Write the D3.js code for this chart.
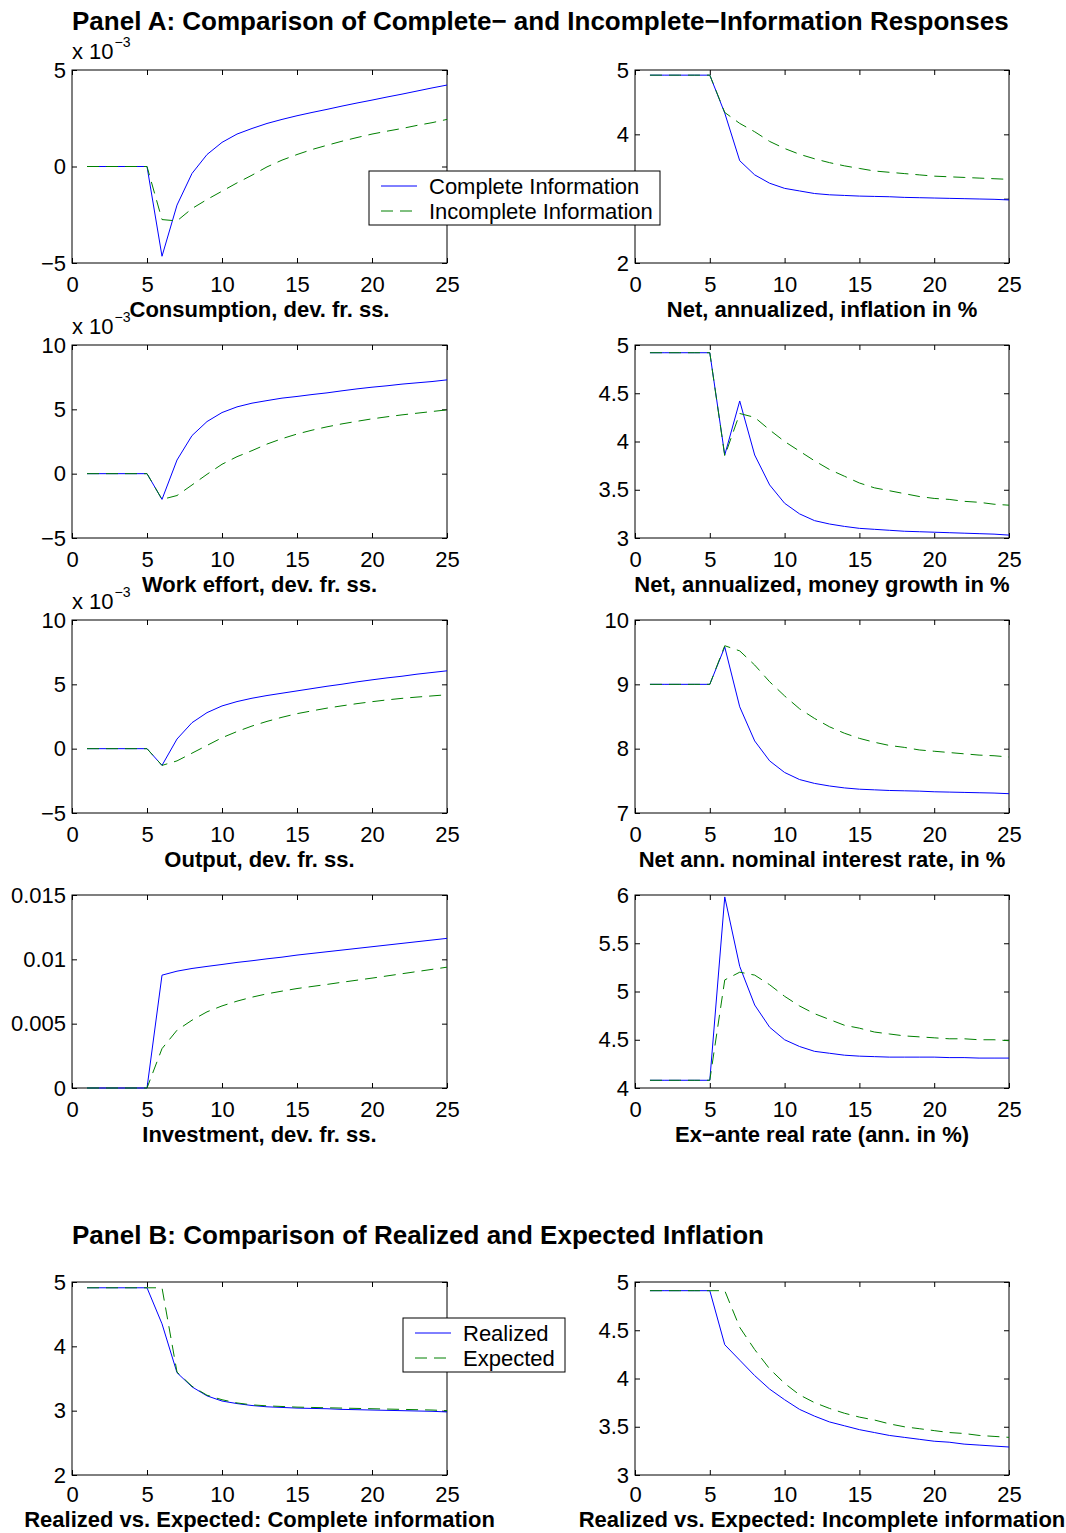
<!DOCTYPE html>
<html>
<head>
<meta charset="utf-8">
<script src="https://cdn.jsdelivr.net/npm/d3@7"></script>
<style>
body { margin: 0; background: #fff; }
text { font-family: "Liberation Sans", Arial, Helvetica, sans-serif; fill: #000; }
</style>
</head>
<body>
<svg id="fig" width="1066" height="1533"></svg>
<script>
'use strict';

// periods on the horizontal axis
var periods = [1,2,3,4,5,6,7,8,9,10,11,12,13,14,15,16,17,18,19,20,21,22,23,24,25];
var xTicks = [0, 5, 10, 15, 20, 25];

// Panel A, values (left column in units of 1e-3, except investment)
var consComplete   = [0,0,0,0,0,-4.65,-2.0,-0.36,0.62,1.25,1.68,1.97,2.23,2.44,2.63,2.80,2.96,3.13,3.29,3.44,3.60,3.75,3.91,4.07,4.22];
var consIncomplete = [0,0,0,0,0,-2.75,-2.82,-2.18,-1.71,-1.28,-0.85,-0.45,-0.02,0.33,0.62,0.88,1.10,1.31,1.50,1.68,1.83,1.97,2.13,2.27,2.44];

var inflComplete   = [4.92,4.92,4.92,4.92,4.92,4.33,3.59,3.37,3.24,3.16,3.12,3.08,3.06,3.05,3.04,3.035,3.03,3.02,3.015,3.01,3.005,3.0,2.995,2.99,2.98];
var inflIncomplete = [4.92,4.92,4.92,4.92,4.92,4.34,4.17,4.04,3.89,3.78,3.69,3.62,3.56,3.51,3.47,3.43,3.41,3.39,3.37,3.35,3.34,3.33,3.32,3.31,3.30];

var workComplete   = [0,0,0,0,0,-2.0,1.06,2.96,4.05,4.75,5.19,5.48,5.68,5.87,6.0,6.15,6.28,6.44,6.59,6.72,6.83,6.96,7.06,7.16,7.29];
var workIncomplete = [0,0,0,0,0,-2.0,-1.7,-0.88,-0.05,0.73,1.32,1.79,2.30,2.72,3.08,3.38,3.64,3.87,4.07,4.26,4.42,4.57,4.70,4.83,4.96];

var moneyComplete   = [4.92,4.92,4.92,4.92,4.92,3.86,4.42,3.86,3.55,3.36,3.25,3.18,3.145,3.12,3.10,3.09,3.08,3.07,3.065,3.06,3.055,3.05,3.045,3.04,3.03];
var moneyIncomplete = [4.92,4.92,4.92,4.92,4.92,3.85,4.29,4.25,4.12,4.0,3.90,3.80,3.71,3.64,3.57,3.52,3.49,3.46,3.43,3.41,3.40,3.38,3.37,3.35,3.34];

var outputComplete   = [0,0,0,0,0,-1.3,0.75,2.02,2.80,3.32,3.66,3.92,4.13,4.31,4.49,4.67,4.85,5.01,5.19,5.35,5.50,5.63,5.79,5.92,6.05];
var outputIncomplete = [0,0,0,0,0,-1.3,-0.95,-0.35,0.25,0.85,1.33,1.76,2.12,2.44,2.72,2.94,3.15,3.33,3.50,3.65,3.79,3.91,4.01,4.10,4.19];

var rateComplete   = [9,9,9,9,9,9.58,8.65,8.12,7.81,7.63,7.52,7.46,7.42,7.39,7.37,7.36,7.35,7.345,7.34,7.33,7.325,7.32,7.315,7.31,7.30];
var rateIncomplete = [9,9,9,9,9,9.60,9.52,9.30,9.04,8.82,8.62,8.47,8.34,8.24,8.16,8.10,8.05,8.02,7.98,7.96,7.94,7.92,7.90,7.89,7.87];

var investComplete   = [0,0,0,0,0,0.00877,0.00908,0.00929,0.00945,0.0096,0.00976,0.00989,0.01004,0.01017,0.01033,0.01046,0.01059,0.01072,0.01085,0.01098,0.01111,0.01124,0.01137,0.0115,0.01163];
var investIncomplete = [0,0,0,0,0,0.00306,0.00449,0.00527,0.00592,0.00638,0.00675,0.00706,0.00732,0.00753,0.00773,0.00789,0.00805,0.00822,0.00838,0.00854,0.00871,0.00888,0.00905,0.00922,0.00939];

var realComplete   = [4.08,4.08,4.08,4.08,4.08,5.98,5.26,4.86,4.63,4.50,4.43,4.38,4.36,4.34,4.33,4.325,4.32,4.32,4.32,4.32,4.315,4.315,4.31,4.31,4.31];
var realIncomplete = [4.08,4.08,4.08,4.08,4.08,5.12,5.20,5.17,5.07,4.95,4.85,4.77,4.71,4.65,4.62,4.58,4.56,4.54,4.53,4.52,4.51,4.51,4.50,4.50,4.49];

// Panel B
var realizedComplete = [4.91,4.91,4.91,4.91,4.91,4.35,3.59,3.37,3.23,3.15,3.11,3.08,3.06,3.05,3.04,3.035,3.03,3.02,3.015,3.01,3.005,3.0,2.995,2.99,2.98];
var expectedComplete = [4.91,4.91,4.91,4.91,4.91,4.91,3.60,3.38,3.24,3.17,3.12,3.09,3.075,3.065,3.055,3.05,3.045,3.04,3.035,3.03,3.025,3.02,3.015,3.01,3.0];
var realizedIncomplete = [4.91,4.91,4.91,4.91,4.91,4.35,4.19,4.03,3.89,3.78,3.68,3.61,3.55,3.51,3.47,3.44,3.41,3.39,3.37,3.35,3.34,3.32,3.31,3.30,3.29];
var expectedIncomplete = [4.91,4.91,4.91,4.91,4.91,4.91,4.53,4.30,4.10,3.95,3.83,3.75,3.69,3.64,3.60,3.57,3.53,3.50,3.48,3.46,3.44,3.43,3.41,3.40,3.39];

var titleA = 'Panel A: Comparison of Complete\u2212 and Incomplete\u2212Information Responses';
var titleB = 'Panel B: Comparison of Realized and Expected Inflation';
var legendA = ['Complete Information', 'Incomplete Information'];
var legendB = ['Realized', 'Expected'];

// layout
var cols = [[72, 447], [635, 1009]];
var rowTops = [70, 345, 620, 895, 1282];
var plotH = 193;
var blue = '#0000ff', green = '#008000';
var dash = '12,7';
var fontSize = 22;

// the 3 label of the inflation panel sits under the legend in the original, so it is left out
var panels = [
	{col: 0, row: 0, y: [-5, 5], ticks: [-5, 0, 5], mult: true, s: [consComplete, consIncomplete], label: 'Consumption, dev. fr. ss.'},
	{col: 1, row: 0, y: [2, 5], ticks: [2, 3, 4, 5], hide: [3], s: [inflComplete, inflIncomplete], label: 'Net, annualized, inflation in %'},
	{col: 0, row: 1, y: [-5, 10], ticks: [-5, 0, 5, 10], mult: true, s: [workComplete, workIncomplete], label: 'Work effort, dev. fr. ss.'},
	{col: 1, row: 1, y: [3, 5], ticks: [3, 3.5, 4, 4.5, 5], s: [moneyComplete, moneyIncomplete], label: 'Net, annualized, money growth in %'},
	{col: 0, row: 2, y: [-5, 10], ticks: [-5, 0, 5, 10], mult: true, s: [outputComplete, outputIncomplete], label: 'Output, dev. fr. ss.'},
	{col: 1, row: 2, y: [7, 10], ticks: [7, 8, 9, 10], s: [rateComplete, rateIncomplete], label: 'Net ann. nominal interest rate, in %'},
	{col: 0, row: 3, y: [0, 0.015], ticks: [0, 0.005, 0.01, 0.015], s: [investComplete, investIncomplete], label: 'Investment, dev. fr. ss.'},
	{col: 1, row: 3, y: [4, 6], ticks: [4, 4.5, 5, 5.5, 6], s: [realComplete, realIncomplete], label: 'Ex\u2212ante real rate (ann. in %)'},
	{col: 0, row: 4, y: [2, 5], ticks: [2, 3, 4, 5], s: [realizedComplete, expectedComplete], label: 'Realized vs. Expected: Complete information'},
	{col: 1, row: 4, y: [3, 5], ticks: [3, 3.5, 4, 4.5, 5], s: [realizedIncomplete, expectedIncomplete], label: 'Realized vs. Expected: Incomplete information'}
];

var svg = d3.select('#fig');

function fmt(v) {
	return String(v).replace('-', '\u2212');
}

function drawPanel(p) {
	var x0 = cols[p.col][0], x1 = cols[p.col][1];
	var top = rowTops[p.row], bottom = top + plotH;
	var x = d3.scaleLinear().domain([0, 25]).range([x0, x1]);
	var y = d3.scaleLinear().domain(p.y).range([bottom, top]);
	var hide = p.hide || [];
	var last = p.row === 4;   // bottom row sits against the page edge, so it is packed a little tighter
	var g = svg.append('g');

	// inward ticks on all four sides, labels left and bottom only
	g.append('g').attr('transform', 'translate(0,' + bottom + ')')
		.call(d3.axisBottom(x).tickValues(xTicks).tickSizeInner(-5).tickSizeOuter(0).tickPadding(last ? 11 : 13).tickFormat(fmt));
	g.append('g').attr('transform', 'translate(0,' + top + ')')
		.call(d3.axisTop(x).tickValues(xTicks).tickSizeInner(-5).tickSizeOuter(0).tickFormat(''));
	g.append('g').attr('transform', 'translate(' + x0 + ',0)')
		.call(d3.axisLeft(y).tickValues(p.ticks).tickSizeInner(-5).tickSizeOuter(0).tickPadding(6)
			.tickFormat(function(v) { return hide.includes(v) ? '' : fmt(v); }));
	g.append('g').attr('transform', 'translate(' + x1 + ',0)')
		.call(d3.axisRight(y).tickValues(p.ticks).tickSizeInner(-5).tickSizeOuter(0).tickFormat(''));
	g.selectAll('.domain').remove();
	g.selectAll('.tick line').attr('stroke', '#000');
	g.selectAll('.tick text').attr('font-size', fontSize).attr('font-family', '"Liberation Sans", Arial, sans-serif').attr('fill', '#000');
	g.selectAll('.tick text').filter(function() { return this.textContent === ''; }).remove();

	g.append('rect')
		.attr('x', x0).attr('y', top).attr('width', x1 - x0).attr('height', plotH)
		.attr('fill', 'none').attr('stroke', '#000').attr('stroke-width', 1);

	var line = d3.line().x(function(d, i) { return x(periods[i]); }).y(function(d) { return y(d); });
	g.append('path').datum(p.s[0]).attr('d', line)
		.attr('fill', 'none').attr('stroke', blue).attr('stroke-width', 1);
	g.append('path').datum(p.s[1]).attr('d', line)
		.attr('fill', 'none').attr('stroke', green).attr('stroke-width', 1).attr('stroke-dasharray', dash);

	g.append('text')
		.attr('x', (x0 + x1) / 2).attr('y', bottom + (last ? 52 : 54))
		.attr('text-anchor', 'middle').attr('font-size', fontSize).attr('font-weight', 'bold')
		.text(p.label);

	if (p.mult) {
		var m = g.append('text').attr('x', x0).attr('y', top - 11).attr('font-size', fontSize);
		m.append('tspan').text('x 10');
		m.append('tspan').attr('dy', -12).attr('dx', 1).attr('font-size', 14).text('\u22123');
	}
}

function drawLegend(x, y, w, labels) {
	var g = svg.append('g');
	g.append('rect').attr('x', x).attr('y', y).attr('width', w).attr('height', 54)
		.attr('fill', '#fff').attr('stroke', '#000').attr('stroke-width', 1);
	[blue, green].forEach(function(c, i) {
		var ly = y + 15 + i * 25;
		g.append('line').attr('x1', x + 12).attr('x2', x + 48).attr('y1', ly).attr('y2', ly)
			.attr('stroke', c).attr('stroke-width', 1)
			.attr('stroke-dasharray', i ? dash : null);
		g.append('text').attr('x', x + 60).attr('y', ly + 8).attr('font-size', fontSize).text(labels[i]);
	});
}

svg.append('text').attr('x', 72).attr('y', 30).attr('font-size', 26).attr('font-weight', 'bold').text(titleA);
svg.append('text').attr('x', 72).attr('y', 1244).attr('font-size', 26).attr('font-weight', 'bold').text(titleB);

panels.forEach(drawPanel);
drawLegend(369, 171, 291, legendA);
drawLegend(403, 1318, 162, legendB);
</script>
</body>
</html>
